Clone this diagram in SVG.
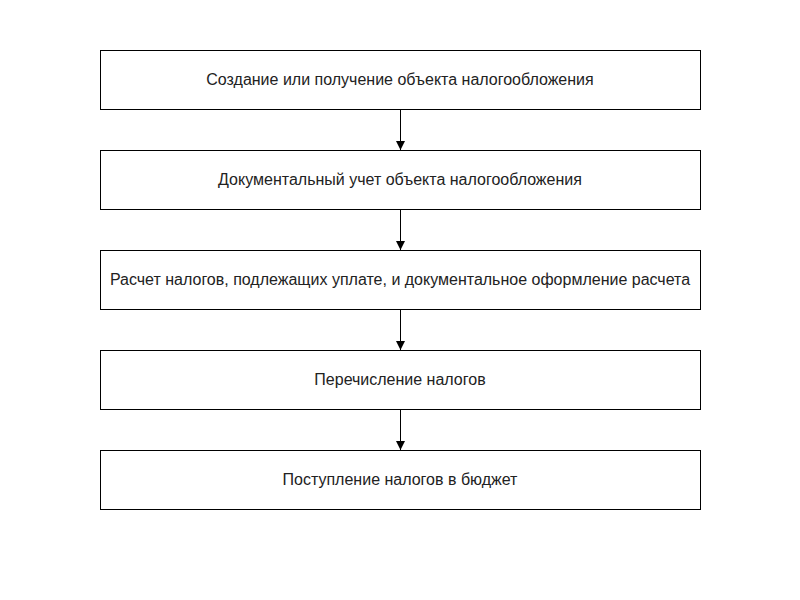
<svg xmlns="http://www.w3.org/2000/svg" width="800" height="600" viewBox="0 0 800 600">
<style>
.box{fill:#fff;stroke:#000;stroke-width:1}
.t{font-family:"Liberation Sans",Arial,sans-serif;font-size:16px;fill:#222;text-anchor:middle;dominant-baseline:central}
.c{stroke:#000;stroke-width:1;fill:none;marker-end:url(#ah)}
</style>
<defs><marker id="ah" markerWidth="10" markerHeight="10" refX="9" refY="5" orient="auto" markerUnits="userSpaceOnUse"><path d="M0,0.5 L9,5 L0,9.5 z" fill="#000"/></marker></defs>
<rect width="800" height="600" fill="#fff"/>
<g id="connectors">
<path class="c" d="M400.5,110 V150"/>
<path class="c" d="M400.5,210 V250"/>
<path class="c" d="M400.5,310 V350"/>
<path class="c" d="M400.5,410 V450"/>
</g>
<g id="n1"><rect class="box" x="100.5" y="50.5" width="600" height="59"/><text class="t" x="400" y="79">Создание или получение объекта налогообложения</text></g>
<g id="n2"><rect class="box" x="100.5" y="150.5" width="600" height="59"/><text class="t" x="400" y="179">Документальный учет объекта налогообложения</text></g>
<g id="n3"><rect class="box" x="100.5" y="250.5" width="600" height="59"/><text class="t" x="400" y="279">Расчет налогов, подлежащих уплате, и документальное оформление расчета</text></g>
<g id="n4"><rect class="box" x="100.5" y="350.5" width="600" height="59"/><text class="t" x="400" y="379">Перечисление налогов</text></g>
<g id="n5"><rect class="box" x="100.5" y="450.5" width="600" height="59"/><text class="t" x="400" y="479">Поступление налогов в бюджет</text></g>
</svg>
